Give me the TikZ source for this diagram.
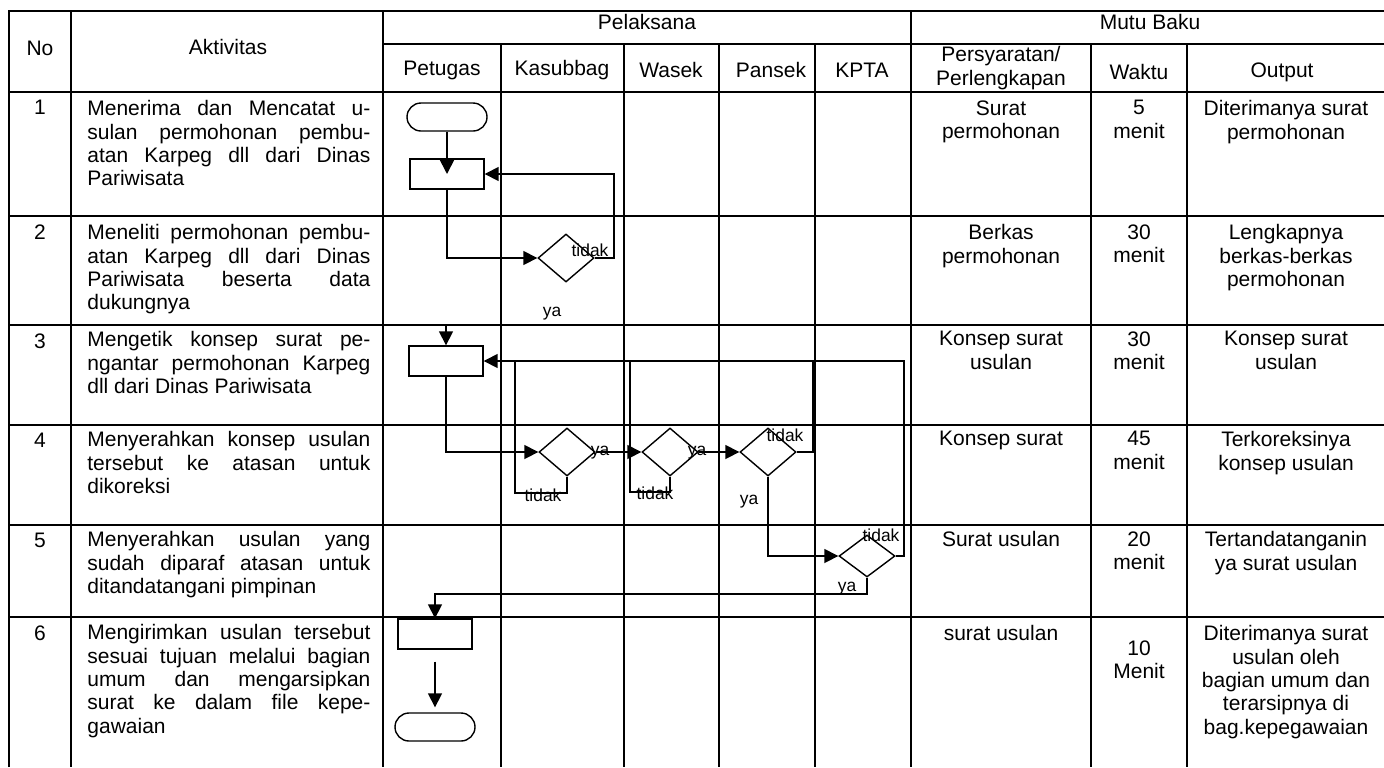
\documentclass[tikz,border=0pt]{standalone}
\usepackage{fontspec}
\setmainfont{Liberation Sans}
\usetikzlibrary{shapes.geometric,arrows.meta}
\tolerance=10000 \hbadness=10000 \hyphenpenalty=10000

\begin{document}
\begin{tikzpicture}[x=0.5pt,y=-0.5pt,
	every node/.style={font=\fontsize{10.5}{11.7}\selectfont, inner sep=0pt},
	grid/.style={line width=1pt},
	flow/.style={line width=0.8pt},
	arr/.style={flow, -{Triangle[length=7pt,width=7pt]}},
	term/.style={draw, line width=0.7pt, rounded corners=7pt, minimum width=40pt, minimum height=14pt},
	proc/.style={draw, line width=0.7pt, minimum width=37pt, minimum height=15pt},
	decide/.style={draw, diamond, line width=0.7pt, minimum width=28pt, minimum height=24pt},
	lbl/.style={font=\fontsize{8.7}{10}\selectfont},
	akt/.style={anchor=north west, text width=141.5pt, align=justify},
	cell/.style={anchor=north, align=center}]
	\useasboundingbox (0,0) rectangle (1384,767);
	% tabel
	\draw[grid] (9,767) -- (9,11) -- (1384,11);
	\foreach \x in {71,383,911} {\draw[grid] (\x,11) -- (\x,767);}
	\foreach \x in {501,624,719,815,1091,1187} {\draw[grid] (\x,44) -- (\x,767);}
	\draw[grid] (383,44) -- (1384,44);
	\foreach \y in {92,216,325,425,525,617} {\draw[grid] (9,\y) -- (1384,\y);}
	% judul kolom
	\node (hno) at (40,48) {No};
	\node (hakt) at (228,47) {Aktivitas};
	\node (hpel) at (647,22) {Pelaksana};
	\node (hmutu) at (1150,22) {Mutu Baku};
	\node (hpetugas) at (442,70) {Petugas};
	\node (hkasubbag) at (562,70) {Kasubbag};
	\node (hwasek) at (671,70) {Wasek};
	\node (hpansek) at (771,70) {Pansek};
	\node (hkpta) at (862,70) {KPTA};
	\node[align=center] (hsyarat) at (1001,68) {Persyaratan/\\Perlengkapan};
	\node (hwaktu) at (1139,72) {Waktu};
	\node (houtput) at (1282,72) {Output};
	% isi baris
	\foreach \n/\y in {1/92,2/216,3/325,4/425,5/525,6/617} {\node[cell] (no\n) at (40,\y+8) {\n};}
	\node[akt] (akt1) at (87,100) {Menerima dan Mencatat u-\linebreak sulan permohonan pembu-\linebreak atan Karpeg dll dari Dinas\linebreak Pariwisata};
	\node[akt] (akt2) at (87,224) {Meneliti permohonan pembu-\linebreak atan Karpeg dll dari Dinas\linebreak Pariwisata beserta data\linebreak dukungnya};
	\node[akt] (akt3) at (87,331) {Mengetik konsep surat pe-\linebreak ngantar permohonan Karpeg\linebreak dll dari Dinas Pariwisata};
	\node[akt] (akt4) at (87,431) {Menyerahkan konsep usulan\linebreak tersebut ke atasan untuk\linebreak dikoreksi};
	\node[akt] (akt5) at (87,531) {Menyerahkan usulan yang\linebreak sudah diparaf atasan untuk\linebreak ditandatangani pimpinan};
	\node[akt] (akt6) at (87,624) {Mengirimkan usulan tersebut\linebreak sesuai tujuan melalui bagian\linebreak umum dan mengarsipkan\linebreak surat ke dalam file kepe-\linebreak gawaian};
	\node[cell] (syarat1) at (1001,100) {Surat\\permohonan};
	\node[cell] (waktu1) at (1139,100) {5\\menit};
	\node[cell] (out1) at (1286,100) {Diterimanya surat\\permohonan};
	\node[cell] (syarat2) at (1001,224) {Berkas\\permohonan};
	\node[cell] (waktu2) at (1139,224) {30\\menit};
	\node[cell] (out2) at (1286,224) {Lengkapnya\\berkas-berkas\\permohonan};
	\node[cell] (syarat3) at (1001,331) {Konsep surat\\usulan};
	\node[cell] (waktu3) at (1139,331) {30\\menit};
	\node[cell] (out3) at (1286,331) {Konsep surat\\usulan};
	\node[cell] (syarat4) at (1001,431) {Konsep surat};
	\node[cell] (waktu4) at (1139,431) {45\\menit};
	\node[cell] (out4) at (1286,431) {Terkoreksinya\\konsep usulan};
	\node[cell] (syarat5) at (1001,531) {Surat usulan};
	\node[cell] (waktu5) at (1139,531) {20\\menit};
	\node[cell] (out5) at (1286,531) {Tertandatanganin\\ya surat usulan};
	\node[cell] (syarat6) at (1001,625) {surat usulan};
	\node[cell] (waktu6) at (1139,640) {10\\Menit};
	\node[cell] (out6) at (1286,625) {Diterimanya surat\\usulan oleh\\bagian umum dan\\terarsipnya di\\bag.kepegawaian};
	% bagan alir
	\node[term] (mulai) at (447,117) {};
	\node[proc] (terima) at (447,174) {};
	\node[decide] (teliti) at (566,258) {};
	\node[proc] (ketik) at (446,361) {};
	\node[decide] (kor1) at (567,452) {};
	\node[decide] (kor2) at (670,452) {};
	\node[decide] (kor3) at (768,452) {};
	\node[decide, minimum height=21pt] (ttd) at (867,556) {};
	\node[proc] (kirim) at (435,634) {};
	\node[term] (selesai) at (435,727) {};
	\coordinate (masuk) at (446,325);
	\draw[arr] (mulai.south) -- (terima.center);
	\draw[arr] (terima.south) |- (teliti.west);
	\draw[arr] (teliti.east) -- ++(19,0) |- (terima.east);
	\draw[arr] (masuk) -- (ketik.north);
	\draw[arr] (ketik.south) |- (kor1.west);
	\draw[arr] (kor1.east) -- (kor2.west);
	\draw[arr] (kor2.east) -- (kor3.west);
	\draw[arr] (kor3.south) |- (ttd.west);
	\draw[arr] (ttd.east) -- ++(8,0) |- (ketik.east);
	\draw[flow] (kor1.south) -- ++(0,16) -| (515,361);
	\draw[flow] (kor2.south) -- ++(0,15) -| (630,361);
	\draw[flow] (kor3.east) -- ++(16,0) -- ++(0,-91);
	\draw[arr] (ttd.south) -- ++(0,16) -| (kirim.north);
	\draw[arr, shorten <=6pt, shorten >=2.5pt] (kirim.south) -- (selesai.north);
	\node[lbl] (tdk1) at (590,250) {tidak};
	\node[lbl] (ya1) at (552,314) {ya};
	\node[lbl] (ya2) at (600,453) {ya};
	\node[lbl] (tdk2) at (543,495) {tidak};
	\node[lbl] (ya3) at (697,453) {ya};
	\node[lbl] (tdk3) at (655,493) {tidak};
	\node[lbl] (tdk4) at (785,435) {tidak};
	\node[lbl] (ya4) at (749,502) {ya};
	\node[lbl] (tdk5) at (881,535) {tidak};
	\node[lbl] (ya5) at (847,589) {ya};
\end{tikzpicture}
\end{document}
